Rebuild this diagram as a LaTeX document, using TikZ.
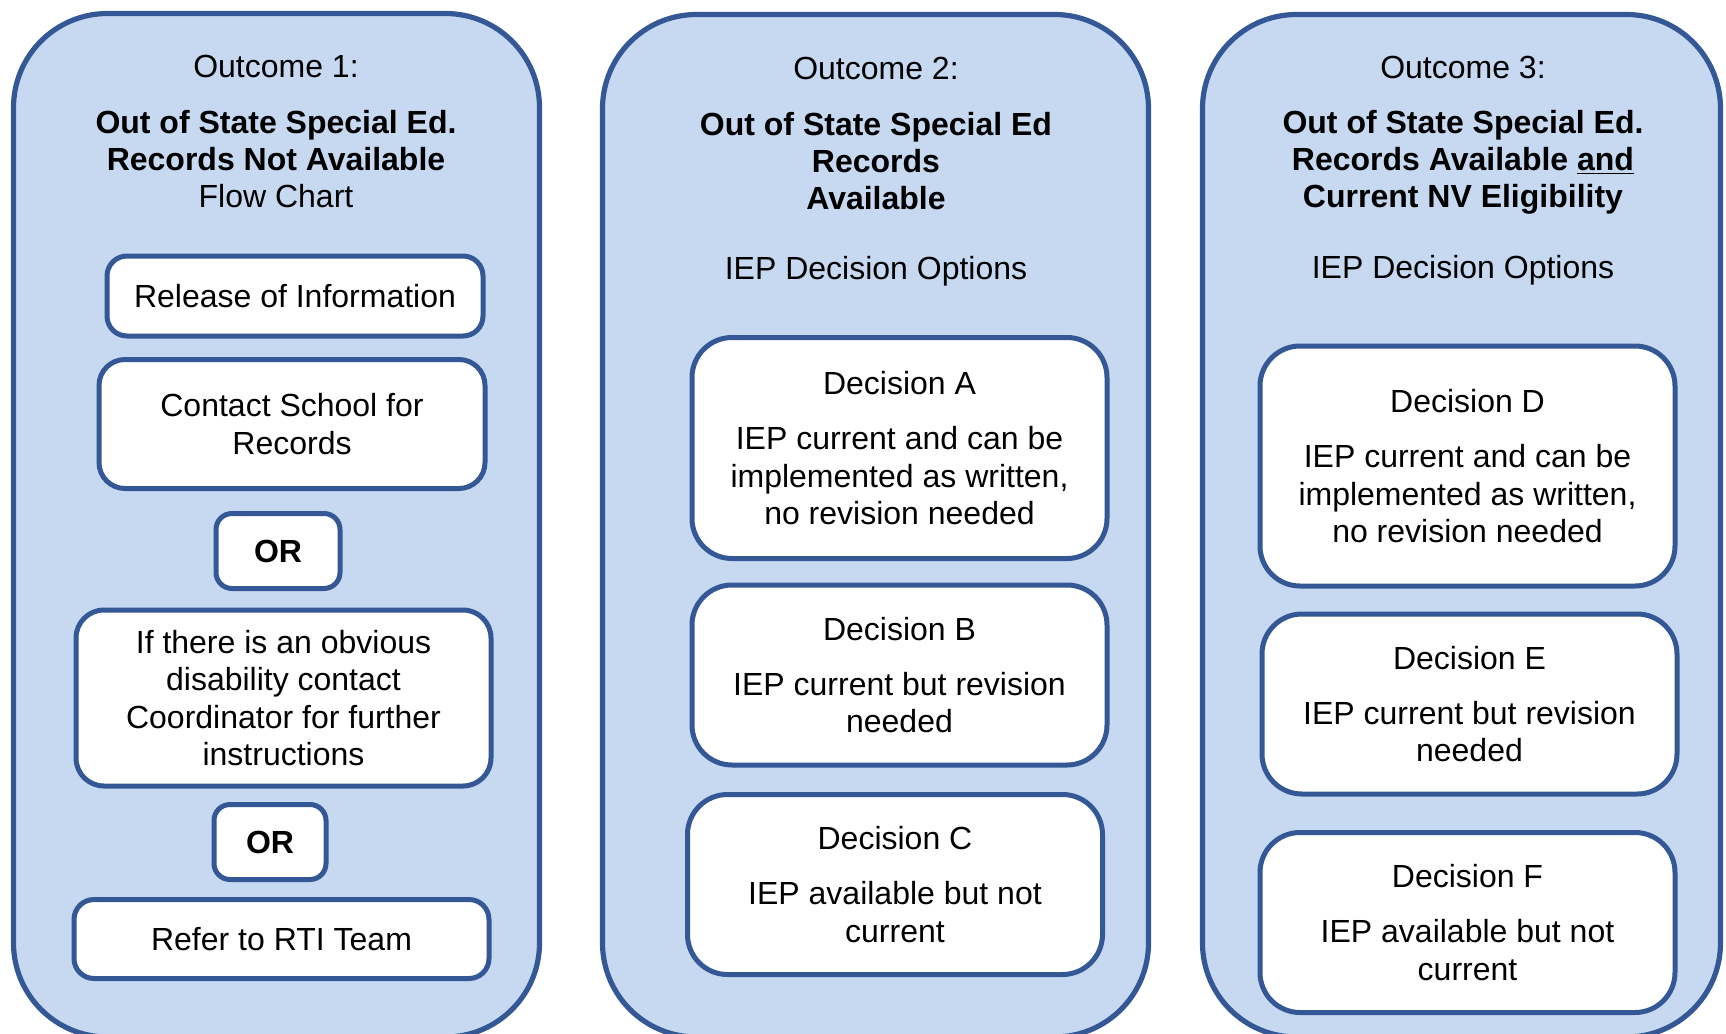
\documentclass[tikz,border=0pt]{standalone}
\usepackage{fontspec}
\setmainfont{Liberation Sans}
\usetikzlibrary{positioning}
\definecolor{panelfill}{RGB}{198,217,241}
\definecolor{panelline}{RGB}{52,88,150}

\begin{document}
\begin{tikzpicture}[x=0.5pt, y=-0.5pt,
	  font=\fontsize{16}{18.6}\selectfont,
	  every node/.style = {align=center, inner sep=0pt},
	  panel/.style = {draw=panelline, fill=panelfill, line width=2.6pt, rounded corners=47pt},
	  stepbox/.style = {draw=panelline, fill=white, line width=2.5pt, rounded corners=10pt},
	  decision/.style = {stepbox, rounded corners=20pt, minimum width=207.5pt, minimum height=90pt},
	  orbox/.style = {stepbox, rounded corners=8pt, minimum height=37.5pt, font=\fontsize{16}{18.6}\selectfont\bfseries}]
	  \useasboundingbox (0,0) rectangle (1726,1034);
	  % the three outcome panels
	  \draw[panel] (13.5,13.5) rectangle (539.5,1037);
	  \draw[panel] (602.5,14.5) rectangle (1148.5,1037);
	  \draw[panel] (1202.5,14.5) rectangle (1720.5,1037);
	  % outcome 1
	  \node (o1) at (276,66) {Outcome 1:};
	  \node (o1title) at (276,159) {\textbf{Out of State Special Ed.}\\\textbf{Records Not Available}\\Flow Chart};
	  \node[stepbox, minimum width=188pt, minimum height=40pt] (release) at (295,296) {Release of Information};
	  \node[stepbox, rounded corners=13pt, minimum width=193pt, minimum height=64.5pt] (contact) at (292,424) {Contact School for\\Records};
	  \node[orbox, minimum width=62pt] (or1) at (278,551) {OR};
	  \node[stepbox, rounded corners=14pt, minimum width=207.5pt, minimum height=88pt] (obvious) at (283.5,698) {If there is an obvious\\disability contact\\Coordinator for further\\instructions};
	  \node[orbox, minimum width=56pt] (or2) at (270,842) {OR};
	  \node[stepbox, minimum width=207.5pt, minimum height=39.5pt] (rti) at (281.5,939) {Refer to RTI Team};
	  % outcome 2
	  \node (o2) at (876,68) {Outcome 2:};
	  \node[font=\fontsize{16}{18.6}\selectfont\bfseries] (o2title) at (876,161) {Out of State Special Ed\\Records\\Available};
	  \node (o2opts) at (876,271) {IEP Decision Options};
	  \node[decision, minimum height=110.5pt] (decA) at (899.5,448) {Decision A\\[9pt]IEP current and can be\\implemented as written,\\no revision needed};
	  \node[decision] (decB) at (899.5,675) {Decision B\\[9pt]IEP current but revision\\needed};
	  \node[decision] (decC) at (895,884.5) {Decision C\\[9pt]IEP available but not\\current};
	  % outcome 3
	  \node (o3) at (1463,67) {Outcome 3:};
	  \node[font=\fontsize{16}{18.6}\selectfont\bfseries] (o3title) at (1463,162) {Out of State Special Ed.\\Records Available \underline{and}\\Current NV Eligibility};
	  \node (o3opts) at (1463,270) {IEP Decision Options};
	  \node[decision, minimum height=120pt] (decD) at (1467.5,466) {Decision D\\[9pt]IEP current and can be\\implemented as written,\\no revision needed};
	  \node[decision] (decE) at (1469.5,704) {Decision E\\[9pt]IEP current but revision\\needed};
	  \node[decision] (decF) at (1467.5,922.5) {Decision F\\[9pt]IEP available but not\\current};
	\end{tikzpicture}
\end{document}
